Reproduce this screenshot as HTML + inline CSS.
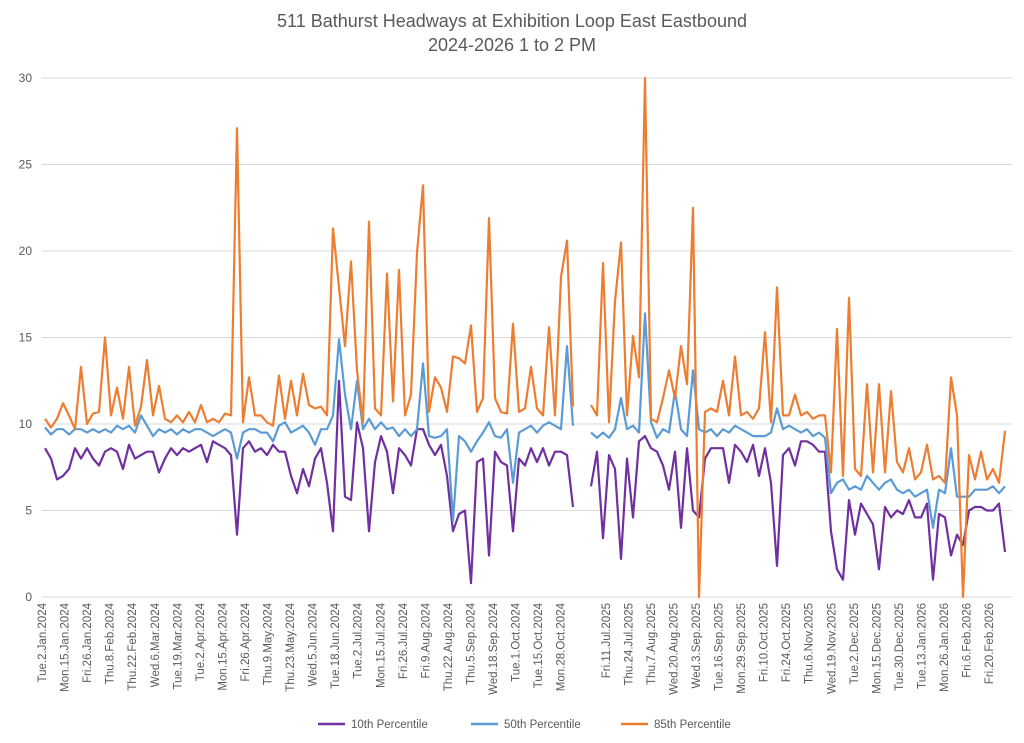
<!DOCTYPE html>
<html><head><meta charset="utf-8">
<style>
body{margin:0;background:#fff;font-family:"Liberation Sans",Arial,sans-serif;}
svg{display:block}
</style></head>
<body>
<svg id="chart" width="1024" height="743" xmlns="http://www.w3.org/2000/svg">
<text x="512" y="27" text-anchor="middle" font-size="18" fill="#595959">511 Bathurst Headways at Exhibition Loop East Eastbound</text>
<text x="512" y="51" text-anchor="middle" font-size="18" fill="#595959">2024-2026 1 to 2 PM</text>
<g id="grid"></g><g id="yt"></g><g id="xt"></g><g id="series"></g>
<g>
<line x1="318" y1="724" x2="345" y2="724" stroke="#7030a0" stroke-width="2.5"/>
<text x="351" y="728" font-size="11.5" fill="#595959">10th Percentile</text>
<line x1="471" y1="724" x2="498" y2="724" stroke="#5b9bd5" stroke-width="2.5"/>
<text x="504" y="728" font-size="11.5" fill="#595959">50th Percentile</text>
<line x1="621" y1="724" x2="648" y2="724" stroke="#ed7d31" stroke-width="2.5"/>
<text x="654" y="728" font-size="11.5" fill="#595959">85th Percentile</text>
</g>
</svg>
<script>
const yTicks=[0,5,10,15,20,25,30];
const xLabels=["Tue.2.Jan.2024","Mon.15.Jan.2024","Fri.26.Jan.2024","Thu.8.Feb.2024","Thu.22.Feb.2024","Wed.6.Mar.2024","Tue.19.Mar.2024","Tue.2.Apr.2024","Mon.15.Apr.2024","Fri.26.Apr.2024","Thu.9.May.2024","Thu.23.May.2024","Wed.5.Jun.2024","Tue.18.Jun.2024","Tue.2.Jul.2024","Mon.15.Jul.2024","Fri.26.Jul.2024","Fri.9.Aug.2024","Thu.22.Aug.2024","Thu.5.Sep.2024","Wed.18.Sep.2024","Tue.1.Oct.2024","Tue.15.Oct.2024","Mon.28.Oct.2024","","Fri.11.Jul.2025","Thu.24.Jul.2025","Thu.7.Aug.2025","Wed.20.Aug.2025","Wed.3.Sep.2025","Tue.16.Sep.2025","Mon.29.Sep.2025","Fri.10.Oct.2025","Fri.24.Oct.2025","Thu.6.Nov.2025","Wed.19.Nov.2025","Tue.2.Dec.2025","Mon.15.Dec.2025","Tue.30.Dec.2025","Tue.13.Jan.2026","Mon.26.Jan.2026","Fri.6.Feb.2026","Fri.20.Feb.2026"];
const p85=[10.3,9.8,10.3,11.2,10.5,9.7,13.3,10.0,10.6,10.7,15.0,10.5,12.1,10.3,13.3,9.9,11.0,13.7,10.5,12.2,10.3,10.1,10.5,10.1,10.7,10.1,11.1,10.1,10.3,10.1,10.6,10.5,27.1,10.1,12.7,10.5,10.5,10.1,9.9,12.8,10.3,12.5,10.5,12.9,11.1,10.9,11.0,10.5,21.3,17.9,14.5,19.4,13.1,10.1,21.7,
10.9,10.5,18.7,11.3,18.9,10.5,11.7,19.9,23.8,10.7,12.7,12.1,10.7,13.9,13.8,13.5,15.7,10.7,11.5,21.9,11.5,10.7,10.6,15.8,10.7,10.9,13.3,10.9,10.5,15.6,10.5,18.5,20.6,11.0,
null,null,
11.1,10.5,19.3,10.1,17.1,20.5,10.5,15.1,12.7,30,
10.3,10.1,11.5,13.1,11.5,14.5,12.3,22.5,0,10.7,10.9,10.7,12.5,10.5,13.9,10.5,10.7,10.3,10.9,15.3,10.1,17.9,10.5,10.5,11.7,10.5,10.7,10.3,10.5,10.5,7.2,15.5,7.0,17.3,7.4,7.0,12.3,7.2,12.3,7.2,11.9,7.8,7.2,8.6,6.8,7.2,8.8,6.8,7.0,6.6,12.7,10.5,0,8.2,6.8,8.4,6.8,7.4,6.6,9.6];
const p50=[9.8,9.4,9.7,9.7,9.4,9.7,9.7,9.5,9.7,9.5,9.7,9.5,9.9,9.7,9.9,9.5,10.5,9.9,9.3,9.7,9.5,9.7,9.4,9.7,9.5,9.7,9.7,9.5,9.3,9.5,9.7,9.5,8.0,9.5,9.7,9.7,9.5,9.5,9.0,9.9,10.1,9.5,9.7,9.9,9.5,8.8,9.7,9.7,10.5,14.9,11.7,9.7,12.5,9.7,10.3,
9.7,10.1,9.7,9.8,9.3,9.7,9.3,9.7,13.5,9.3,9.2,9.3,9.7,4.4,9.3,9.0,8.4,9.0,9.5,10.1,9.3,9.2,9.7,6.6,9.5,9.7,9.9,9.5,9.9,10.1,9.9,9.7,14.5,9.9,
null,null,
9.5,9.2,9.5,9.2,9.7,11.5,9.7,9.9,9.5,16.4,
10.1,9.2,9.7,9.5,11.9,9.7,9.3,13.1,9.7,9.5,9.7,9.3,9.7,9.5,9.9,9.7,9.5,9.3,9.3,9.3,9.5,10.9,9.7,9.9,9.7,9.5,9.7,9.3,9.5,9.2,6.0,6.6,6.8,6.2,6.4,6.2,7.0,6.6,6.2,6.6,6.8,6.2,6.0,6.2,5.8,6.0,6.2,4.0,6.2,6.0,8.6,5.8,5.8,5.8,6.2,6.2,6.2,6.4,6.0,6.4];
const p10=[8.6,8.0,6.8,7.0,7.4,8.6,8.0,8.6,8.0,7.6,8.4,8.6,8.4,7.4,8.8,8.0,8.2,8.4,8.4,7.2,8.0,8.6,8.2,8.6,8.4,8.6,8.8,7.8,9.0,8.8,8.6,8.2,3.6,8.6,9.0,8.4,8.6,8.2,8.8,8.4,8.4,7.0,6.0,7.4,6.4,8.0,8.6,6.6,3.8,12.5,5.8,5.6,10.1,8.6,3.8,
7.8,9.3,8.4,6.0,8.6,8.2,7.6,9.7,9.7,8.8,8.2,8.8,7.0,3.8,4.8,5.0,0.8,7.8,8.0,2.4,8.4,7.8,7.6,3.8,8.0,7.6,8.6,7.8,8.6,7.6,8.4,8.4,8.2,5.2,
null,null,
6.4,8.4,3.4,8.2,7.4,2.2,8.0,4.6,9.0,9.3,
8.6,8.4,7.6,6.2,8.4,4.0,8.6,5.0,4.6,8.0,8.6,8.6,8.6,6.6,8.8,8.4,7.8,8.8,7.0,8.6,6.6,1.8,8.2,8.6,7.6,9.0,9.0,8.8,8.4,8.4,3.8,1.6,1.0,5.6,3.6,5.4,4.8,4.2,1.6,5.2,4.6,5.0,4.8,5.6,4.6,4.6,5.4,1.0,4.8,4.6,2.4,3.6,3.0,5.0,5.2,5.2,5.0,5.0,5.4,2.6];

const NS="http://www.w3.org/2000/svg";
const X0=45,X1=1005,Y0=597,Y1=78,YMAX=30;
const N=p85.length;
function xS(i){return X0+(X1-X0)*i/(N-1);}
function yS(v){return Y0-(Y0-Y1)*v/YMAX;}
function mk(t,a,p){const e=document.createElementNS(NS,t);for(const k in a)e.setAttribute(k,a[k]);p.appendChild(e);return e;}
const grid=document.getElementById('grid'),yt=document.getElementById('yt'),xt=document.getElementById('xt'),ser=document.getElementById('series');
yTicks.forEach(v=>{
  const l=mk('line',{x1:42,x2:1012,y1:yS(v),y2:yS(v),stroke:'#d9d9d9','stroke-width':1},grid);
  
  
  const t=mk('text',{x:32,y:yS(v)+4,'text-anchor':'end','font-size':12,fill:'#595959'},yt);
  
  
  t.textContent=v;
});
xLabels.forEach((s,k)=>{
  if(!s)return;
  const x=42+k*22.55;
  const t=mk('text',{transform:`translate(${x+4},603) rotate(-90)`,'text-anchor':'end','font-size':11.5,fill:'#595959'},xt);
  
  
  t.textContent=s;
});
function draw(arr,color,name){
  let d='',pen=false;
  arr.forEach((v,i)=>{
    if(v===null){pen=false;return;}
    d+=(pen?'L':'M')+xS(i).toFixed(1)+' '+yS(v).toFixed(1)+' ';pen=true;
  });
  const p=mk('path',{d:d,fill:'none',stroke:color,'stroke-width':2.2,'stroke-linejoin':'round'},ser);
  
  
}
draw(p10,'#7030a0','series-10th-percentile');
draw(p50,'#5b9bd5','series-50th-percentile');
draw(p85,'#ed7d31','series-85th-percentile');
</script>
</body></html>
